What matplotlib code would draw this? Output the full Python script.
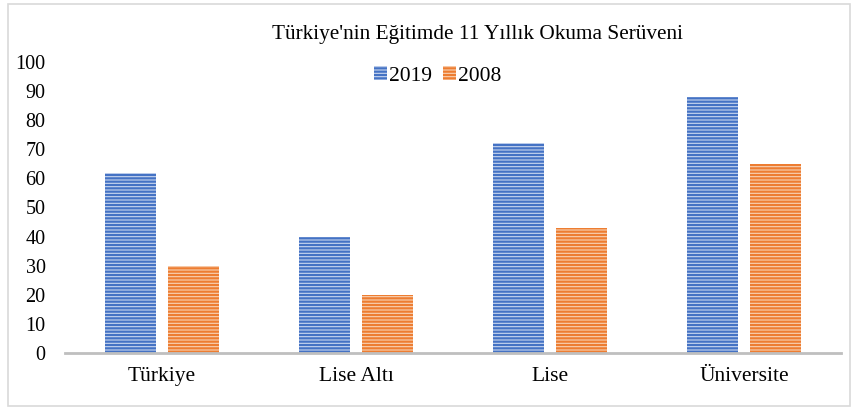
import matplotlib
matplotlib.use('Agg')
import matplotlib.pyplot as plt
import numpy as np
from matplotlib.patches import Rectangle

categories = ['Türkiye', 'Lise Altı', 'Lise', 'Üniversite']
vals_2019 = [62, 40, 72, 88]
vals_2008 = [30, 20, 43, 65]
yticks = list(range(0, 101, 10))

plt.rcParams['font.family'] = ['Liberation Serif', 'DejaVu Serif']
plt.rcParams['hatch.linewidth'] = 1.6

W, H = 851, 407
fig = plt.figure(figsize=(W / 100, H / 100), dpi=100)

# outer frame
fig.patches.append(Rectangle((8 / W, 1 / H), 842 / W, 402 / H, transform=fig.transFigure,
                             fill=False, edgecolor='#d9d9d9', linewidth=1.2))

ax = fig.add_axes([65 / W, 1 - 353 / H, 776 / W, 291 / H])
x = np.arange(len(categories))
bw = 0.263
off = 0.16
b1 = ax.bar(x - off, vals_2019, bw, color='#c9d6ef', edgecolor='#4472c4',
            hatch='-----', linewidth=0, label='2019')
b2 = ax.bar(x + off, vals_2008, bw, color='#f9d2b4', edgecolor='#ed7d31',
            hatch='-----', linewidth=0, label='2008')

ax.set_xlim(-0.5, 3.5)
ax.set_ylim(0, 100)
ax.set_yticks(yticks)
ax.set_xticks(x)
ax.set_xticklabels(categories, fontsize=15.5)
ax.tick_params(axis='y', labelsize=14.5, length=0, pad=14)
ax.tick_params(axis='x', length=0, pad=10)
for s in ['top', 'right', 'left']:
    ax.spines[s].set_visible(False)
ax.spines['bottom'].set_color('#bfbfbf')
ax.spines['bottom'].set_linewidth(2)

fig.text(477 / W, 1 - 34 / H, "Türkiye'nin Eğitimde 11 Yıllık Okuma Serüveni",
         ha='center', va='center', fontsize=15.3)

fig.legend(handles=[b1, b2], loc='center', bbox_to_anchor=(438 / W, 1 - 76 / H),
           ncol=2, frameon=False, fontsize=15.5, handlelength=0.6, handleheight=0.6,
           handletextpad=0.1, columnspacing=0.5)

fig.savefig('out.png', dpi=100)
